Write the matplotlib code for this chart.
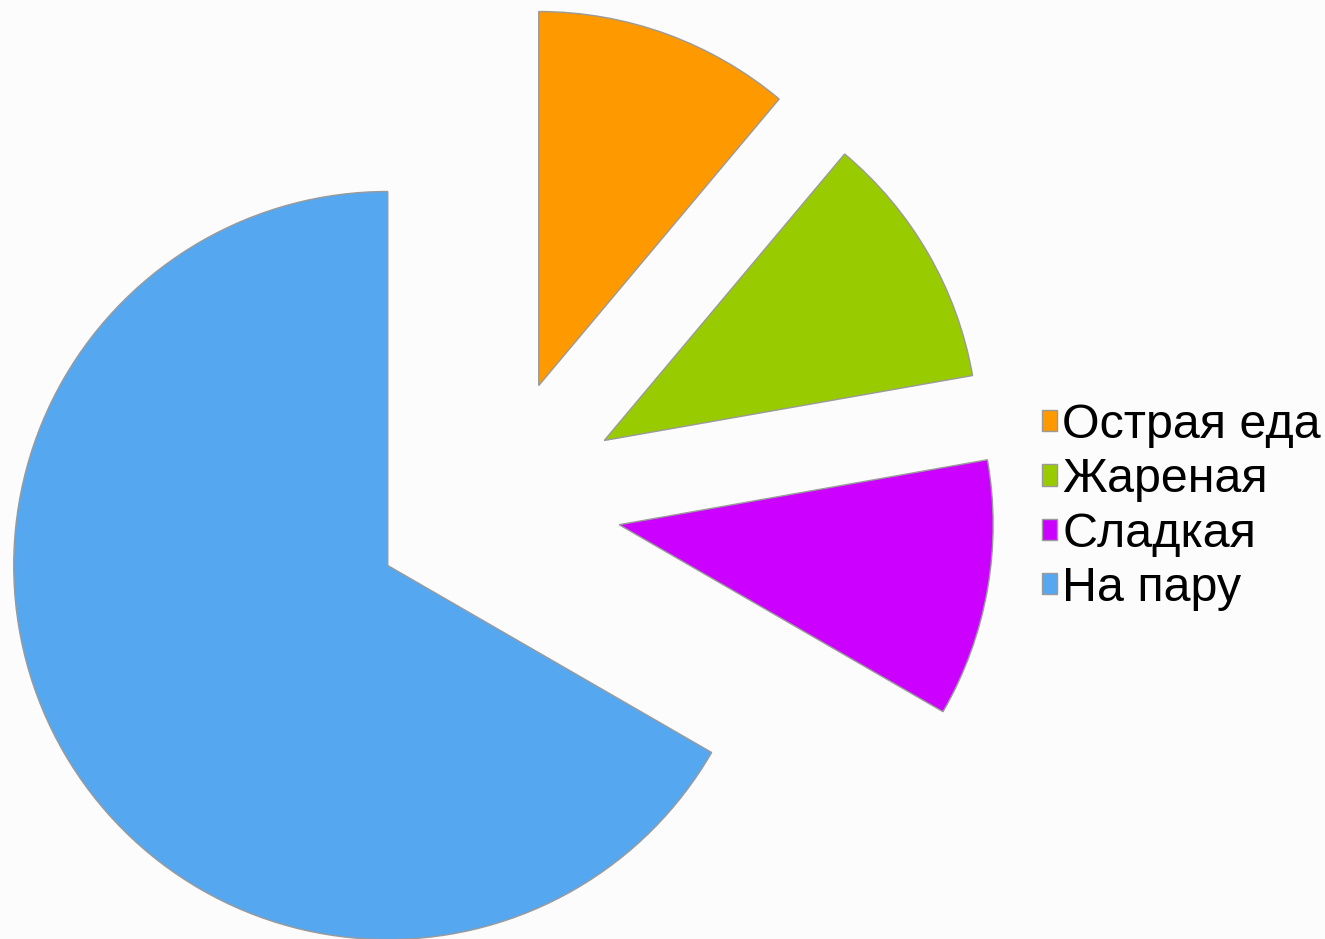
import matplotlib
matplotlib.use("Agg")
import matplotlib.pyplot as plt

# Food preference shares
categories = ["Острая еда", "Жареная", "Сладкая", "На пару"]
values = [1, 1, 1, 6]
colors = ["#FF9900", "#99CC00", "#CC00FF", "#55A8F0"]

plt.rcParams["font.family"] = ["Liberation Sans", "DejaVu Sans"]

W, H = 1325, 939
fig = plt.figure(figsize=(W / 100, H / 100), dpi=100)
fig.patch.set_facecolor("#fcfcfc")

ax = fig.add_axes([0, 0, 1, 1])

radius = 374
offset = 125
wedges, _ = ax.pie(
    values,
    colors=colors,
    startangle=90,
    counterclock=False,
    radius=radius,
    center=(496, H - 503),
    explode=[offset] * len(values),
    wedgeprops=dict(edgecolor="#9a9a9a", linewidth=1.0),
    frame=True,
)
ax.set_xlim(0, W)
ax.set_ylim(0, H)
ax.set_aspect("equal")
ax.axis("off")

fig.legend(
    wedges,
    categories,
    loc="center left",
    bbox_to_anchor=(1042 / W, 1 - 507 / H),
    frameon=False,
    fontsize=34.8,
    handlelength=0.30,
    handleheight=0.30,
    handletextpad=0.12,
    labelspacing=0.19,
    borderpad=0,
    borderaxespad=0,
)

fig.savefig("out.png", dpi=100, facecolor=fig.get_facecolor())
